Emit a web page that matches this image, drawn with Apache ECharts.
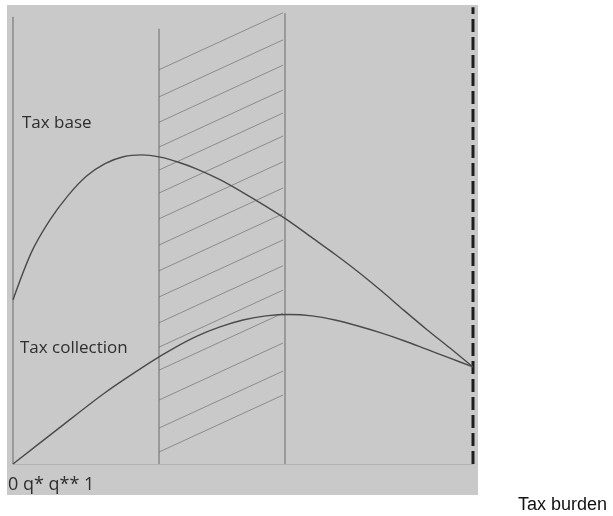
<!DOCTYPE html>
<html>
<head>
<meta charset="utf-8">
<script src="https://cdn.jsdelivr.net/npm/echarts@6/dist/echarts.min.js"></script>
<style>html,body{margin:0;padding:0;background:#fff}#c{width:613px;height:516px}</style>
</head>
<body>
<div id="c"></div>
<script>
// x: share of tax burden (0..1), y: relative amount (0..100)
const taxBaseX = [0, 0.04, 0.08, 0.12, 0.16, 0.20, 0.24, 0.28, 0.32, 0.36, 0.40, 0.45, 0.50, 0.55, 0.60, 0.65, 0.70, 0.75, 0.80, 0.85, 0.90, 0.95, 1];
const taxBaseY = [35.7, 46.0, 53.0, 58.4, 62.6, 65.3, 66.8, 67.2, 66.7, 65.6, 64.1, 61.8, 59.0, 56.0, 52.8, 49.2, 45.6, 41.8, 37.7, 33.4, 29.2, 25.2, 21.1];
const taxCollX = [0, 0.10, 0.20, 0.30, 0.35, 0.40, 0.45, 0.50, 0.55, 0.60, 0.65, 0.70, 0.75, 0.80, 0.85, 0.90, 0.95, 1];
const taxCollY = [0, 7.8, 15.5, 22.2, 25.2, 27.8, 29.8, 31.3, 32.2, 32.5, 32.2, 31.3, 30.0, 28.5, 26.8, 24.9, 23.0, 21.1];
// vertical reference lines: x position and top
const refX = [0, 0.3174, 0.5913];
const refTop = [97.2, 94.6, 98.0];
const limitX = 1;
const limitTop = 99.3;
// hatched band between q* and q**
const hatchX = [0.3174, 0.587];
const hatchLeftY = [85.7, 79.8, 74.3, 68.9, 63.9, 58.9, 53.3, 47.6, 42.0, 36.3, 30.7, 25.4, 20.4, 13.9, 7.8, 2.6];
const hatchRightY = [98.1, 92.2, 86.7, 81.3, 76.3, 71.3, 65.7, 60.0, 54.4, 48.7, 43.1, 37.8, 32.8, 26.3, 20.2, 15.0];
const labels = { base: 'Tax base', coll: 'Tax collection', ticks: '0 q* q** 1', axis: 'Tax burden' };

const chart = echarts.init(document.getElementById('c'), null, { renderer: 'canvas' });
const series = [];
hatchLeftY.forEach((y, i) => {
  series.push({ type: 'line', silent: true, symbol: 'none', z: 1,
    lineStyle: { color: '#8c8c8c', width: 1 },
    data: [[hatchX[0], y], [hatchX[1], hatchRightY[i]]] });
});
refX.forEach((x, i) => {
  series.push({ type: 'line', silent: true, symbol: 'none', z: 2,
    lineStyle: { color: '#6a6a6a', width: 1 },
    data: [[x, 0], [x, refTop[i]]] });
});
series.push({ type: 'line', silent: true, symbol: 'none', z: 3,
  lineStyle: { color: '#1e1e1e', width: 3, type: [13, 5] },
  data: [[limitX, 0], [limitX, limitTop]] });
series.push({ type: 'line', name: labels.base, symbol: 'none', smooth: 0.3, z: 4,
  lineStyle: { color: '#4a4a4a', width: 1.4 },
  data: taxBaseX.map((x, i) => [x, taxBaseY[i]]) });
series.push({ type: 'line', name: labels.coll, symbol: 'none', smooth: 0.3, z: 4,
  lineStyle: { color: '#4a4a4a', width: 1.4 },
  data: taxCollX.map((x, i) => [x, taxCollY[i]]) });

chart.setOption({
  animation: false,
  grid: { left: 13, top: 4, width: 460, height: 460 },
  xAxis: { type: 'value', min: 0, max: 1, axisLine: { show: true, onZero: false, lineStyle: { color: '#b2b2b2', width: 1 } },
    axisTick: { show: false }, axisLabel: { show: false }, splitLine: { show: false } },
  yAxis: { type: 'value', min: 0, max: 100, show: false },
  graphic: [
    { type: 'rect', z: -10, shape: { x: 7, y: 5, width: 471, height: 490 }, style: { fill: '#c9c9c9' } },
    { type: 'text', z: 10, style: { x: 22, y: 123, text: labels.base, font: '17px "Open Sans"', fill: '#2e2e2e', verticalAlign: 'middle' } },
    { type: 'text', z: 10, style: { x: 20, y: 348, text: labels.coll, font: '17px "Open Sans"', fill: '#2e2e2e', verticalAlign: 'middle' } },
    { type: 'text', z: 10, style: { x: 8, y: 485, text: labels.ticks, font: '18px "Open Sans"', fill: '#2e2e2e', verticalAlign: 'middle' } },
    { type: 'text', z: 10, style: { x: 518, y: 505, text: labels.axis, font: '18px "Liberation Sans"', fill: '#111', verticalAlign: 'middle' } }
  ],
  series: series
});
</script>
</body>
</html>
